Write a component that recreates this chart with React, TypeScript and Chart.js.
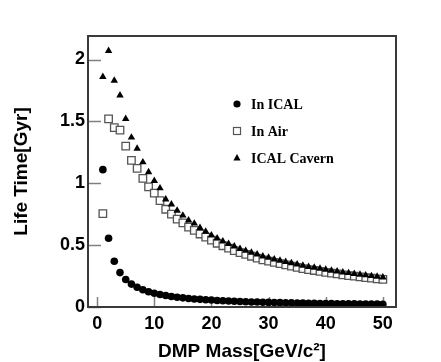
import React, { useEffect, useRef } from 'react';
import { Chart, registerables } from 'chart.js';

Chart.register(...registerables);

const massValues = [
  1, 2, 3, 4, 5, 6, 7, 8, 9, 10,
  11, 12, 13, 14, 15, 16, 17, 18, 19, 20,
  21, 22, 23, 24, 25, 26, 27, 28, 29, 30,
  31, 32, 33, 34, 35, 36, 37, 38, 39, 40,
  41, 42, 43, 44, 45, 46, 47, 48, 49, 50,
];

const inIcal = [
  1.11, 0.555, 0.37, 0.278, 0.222, 0.185, 0.159, 0.139, 0.123, 0.111,
  0.101, 0.093, 0.085, 0.079, 0.074, 0.069, 0.065, 0.062, 0.058, 0.056,
  0.053, 0.05, 0.048, 0.046, 0.044, 0.043, 0.041, 0.04, 0.038, 0.037,
  0.036, 0.035, 0.034, 0.033, 0.032, 0.031, 0.03, 0.029, 0.028, 0.028,
  0.027, 0.026, 0.026, 0.025, 0.025, 0.024, 0.024, 0.023, 0.023, 0.022,
];

const inAir = [
  0.755, 1.52, 1.45, 1.43, 1.3, 1.185, 1.12, 1.04, 0.97, 0.92,
  0.86, 0.79, 0.75, 0.71, 0.68, 0.645, 0.62, 0.59, 0.565, 0.54,
  0.515, 0.495, 0.475, 0.455, 0.44, 0.425, 0.41, 0.395, 0.38, 0.37,
  0.36, 0.35, 0.34, 0.33, 0.32, 0.31, 0.302, 0.295, 0.288, 0.28,
  0.273, 0.267, 0.26, 0.254, 0.249, 0.243, 0.238, 0.233, 0.228, 0.223,
];

const icalCavern = [
  1.86, 2.07, 1.83, 1.71, 1.52, 1.37, 1.28, 1.17, 1.09, 1.02,
  0.96, 0.87, 0.83, 0.78, 0.74, 0.7, 0.675, 0.64, 0.61, 0.58,
  0.555, 0.53, 0.51, 0.49, 0.47, 0.455, 0.44, 0.425, 0.41, 0.4,
  0.385, 0.375, 0.365, 0.355, 0.345, 0.335, 0.325, 0.318, 0.31, 0.302,
  0.295, 0.288, 0.281, 0.275, 0.268, 0.262, 0.257, 0.251, 0.246, 0.24,
];

const seriesLabels = ['In ICAL', 'In Air', 'ICAL Cavern'];
const xTickValues = [0, 10, 20, 30, 40, 50];
const yTickValues = [0, 0.5, 1, 1.5, 2];
const xTitle = 'DMP Mass[GeV/c\u00B2]';
const yTitle = 'Life Time[Gyr]';

const toPoints = (ys: number[]) => massValues.map((x, i) => ({ x, y: ys[i] }));

const frameAndTicks = {
  id: 'frameAndTicks',
  beforeDatasetsDraw(chart: any) {
    const { ctx, chartArea, scales } = chart;
    ctx.save();
    ctx.strokeStyle = '#808080';
    ctx.lineWidth = 1.5;
    for (const v of yTickValues) {
      const y = Math.round(scales.y.getPixelForValue(v)) + 0.5;
      ctx.beginPath();
      ctx.moveTo(chartArea.left, y);
      ctx.lineTo(chartArea.left + 13, y);
      ctx.stroke();
    }
    for (const v of xTickValues) {
      const x = Math.round(scales.x.getPixelForValue(v)) + 0.5;
      ctx.beginPath();
      ctx.moveTo(x, chartArea.bottom);
      ctx.lineTo(x, chartArea.bottom - 10);
      ctx.stroke();
    }
    ctx.restore();
  },
  afterDatasetsDraw(chart: any) {
    const { ctx, chartArea } = chart;
    ctx.save();
    ctx.strokeStyle = '#3a3a3a';
    ctx.lineWidth = 2;
    ctx.strokeRect(chartArea.left, chartArea.top, chartArea.right - chartArea.left, chartArea.bottom - chartArea.top);
    ctx.restore();
  },
};

const customLegend = {
  id: 'customLegend',
  afterDraw(chart: any) {
    const { ctx } = chart;
    const mx = 237;
    const tx = 251;
    const rows = [104, 131, 158];
    ctx.save();
    ctx.fillStyle = '#000';
    ctx.beginPath();
    ctx.arc(mx, rows[0], 3.6, 0, Math.PI * 2);
    ctx.fill();
    ctx.strokeStyle = '#555';
    ctx.lineWidth = 1.2;
    ctx.strokeRect(mx - 3.5, rows[1] - 3.5, 7, 7);
    ctx.beginPath();
    ctx.moveTo(mx, rows[2] - 4);
    ctx.lineTo(mx + 3.6, rows[2] + 2.5);
    ctx.lineTo(mx - 3.6, rows[2] + 2.5);
    ctx.closePath();
    ctx.fill();
    ctx.font = 'bold 14px "Liberation Serif", "Times New Roman", serif';
    ctx.textBaseline = 'middle';
    ctx.textAlign = 'left';
    seriesLabels.forEach((t, i) => ctx.fillText(t, tx, rows[i] + 1));
    ctx.restore();
  },
};

export default function App() {
  const canvasRef = useRef<HTMLCanvasElement | null>(null);

  useEffect(() => {
    document.body.style.margin = '0';
    const canvas = canvasRef.current;
    if (!canvas) return;
    const tickFont = { family: '"Liberation Sans", Arial, sans-serif', size: 18, weight: 'bold' as const };
    const titleFont = { family: '"Liberation Sans", Arial, sans-serif', size: 19, weight: 'bold' as const, lineHeight: 1 };
    const chart = new Chart(canvas, {
      type: 'scatter',
      data: {
        datasets: [
          {
            label: seriesLabels[0],
            data: toPoints(inIcal),
            pointStyle: 'circle',
            pointRadius: 3.8,
            backgroundColor: '#000',
            borderColor: '#000',
            borderWidth: 0,
            order: 2,
          },
          {
            label: seriesLabels[1],
            data: toPoints(inAir),
            pointStyle: 'rect',
            pointRadius: 5.3,
            backgroundColor: 'rgba(255,255,255,0.9)',
            borderColor: '#555',
            borderWidth: 1.3,
            order: 1,
          },
          {
            label: seriesLabels[2],
            data: toPoints(icalCavern),
            pointStyle: 'triangle',
            pointRadius: 4.3,
            backgroundColor: '#000',
            borderColor: '#000',
            borderWidth: 0,
            order: 0,
          },
        ],
      },
      options: {
        responsive: false,
        animation: false,
        devicePixelRatio: 1,
        layout: { padding: { left: 0, top: 36, right: 45, bottom: 0 } },
        plugins: {
          legend: { display: false },
          tooltip: { enabled: false },
        },
        scales: {
          x: {
            type: 'linear',
            min: -1.6,
            max: 52.3,
            afterBuildTicks: (s: any) => {
              s.ticks = xTickValues.map((v) => ({ value: v }));
            },
            afterFit: (s: any) => {
              s.height = 55;
            },
            grid: { display: false, drawTicks: false },
            border: { display: false },
            ticks: {
              color: '#000',
              font: tickFont,
              padding: 6,
              maxRotation: 0,
              callback: (v: any) => String(v),
            },
            title: {
              display: true,
              text: xTitle,
              color: '#000',
              font: titleFont,
              padding: { top: 0, bottom: 1 },
            },
          },
          y: {
            type: 'linear',
            min: 0,
            max: 2.19,
            afterBuildTicks: (s: any) => {
              s.ticks = yTickValues.map((v) => ({ value: v }));
            },
            afterFit: (s: any) => {
              s.width = 88;
            },
            grid: { display: false, drawTicks: false },
            border: { display: false },
            ticks: {
              color: '#000',
              font: tickFont,
              padding: 3,
              callback: (v: any) => String(v),
            },
            title: {
              display: true,
              text: yTitle,
              color: '#000',
              font: titleFont,
              padding: { top: 12, bottom: 0 },
            },
          },
        },
      },
      plugins: [frameAndTicks, customLegend],
    });
    return () => chart.destroy();
  }, []);

  return (
    <div style={{ width: 441, height: 362, background: '#fff' }}>
      <canvas ref={canvasRef} width={441} height={362} style={{ display: 'block' }} />
    </div>
  );
}
